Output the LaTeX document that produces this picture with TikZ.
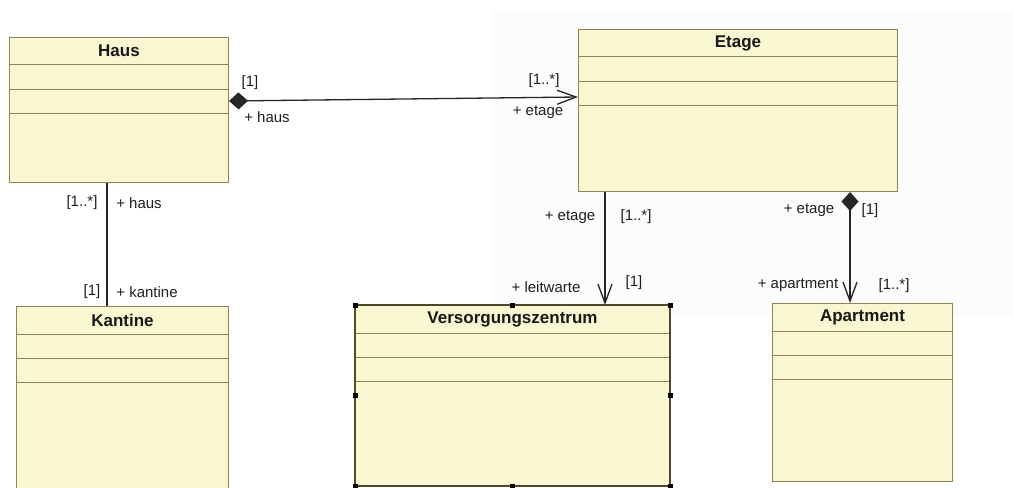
\documentclass[tikz,border=0pt]{standalone}
\usepackage{fontspec}
\setmainfont{Liberation Sans}
\usetikzlibrary{arrows.meta,calc}
\definecolor{classfill}{RGB}{249,246,210}
\definecolor{classborder}{RGB}{145,130,85}
\definecolor{selborder}{RGB}{80,70,40}
\definecolor{labelcol}{RGB}{30,30,30}
\definecolor{ghost}{RGB}{252,252,252}
\tikzset{
  classbox/.style={draw=classborder, fill=classfill, line width=1pt, anchor=north west, inner sep=0pt, rectangle},
  classtitle/.style={font=\fontsize{17}{18}\selectfont\bfseries, text=black!90, inner sep=0pt},
  compline/.style={draw=classborder, line width=1pt},
  assoc/.style={line width=1.3pt, draw=black!85},
  roletext/.style={font=\fontsize{15}{16}\selectfont, text=labelcol, inner sep=0pt},
  handle/.style={fill=black, draw=none, minimum size=5pt, inner sep=0pt, rectangle},
  comptip/.tip={Diamond[length=19pt,width=17pt]},
  navtip/.tip={Straight Barb[length=19pt,width=14pt]}
}
\newcommand{\umlclassbox}[6]{%
  \node[classbox, minimum width=#4pt, minimum height=#5pt] (#1) at (#2,#3) {};
  \node[classtitle] (#1-title) at ($(#1.north)+(0,14)$) {#6};
  \draw[compline] ($(#1.north west)+(0,28)$) -- ($(#1.north east)+(0,28)$);
  \draw[compline] ($(#1.north west)+(0,52)$) -- ($(#1.north east)+(0,52)$);
  \draw[compline] ($(#1.north west)+(0,76)$) -- ($(#1.north east)+(0,76)$);
}
\begin{document}
\begin{tikzpicture}[x=1pt,y=-1pt]
\useasboundingbox (0,0) rectangle (1014,487);
\begin{scope}
\clip (0,0) rectangle (1014,487);
\fill[ghost] (493,10) rectangle (1014,315);

\umlclassbox{haus}{9}{37}{219}{145}{Haus}
\umlclassbox{etage}{578}{29}{319}{162}{Etage}
\umlclassbox{kantine}{16}{306}{212}{190}{Kantine}
\umlclassbox{versorg}{355}{305}{314}{180}{Versorgungszentrum}
\umlclassbox{apartment}{772}{303}{180}{178}{Apartment}

% selection frame of Versorgungszentrum
\draw[selborder, line width=1.5pt] (versorg.north west) rectangle (versorg.south east);
\foreach \a in {north west,north,north east,west,east,south west,south,south east}
  \node[handle] at (versorg.\a) {};

% connectors
\coordinate (hausE) at ($(haus.north east)+(0,64)$);
\coordinate (etageW) at ($(etage.north west)+(0,68)$);
\draw[assoc, comptip-navtip] (hausE) -- (etageW);

\coordinate (hausS) at ($(haus.south west)+(98,0)$);
\coordinate (kantineN) at ($(kantine.north west)+(91,0)$);
\draw[assoc] (hausS) -- (kantineN);

\coordinate (etageS1) at ($(etage.south west)+(27,0)$);
\coordinate (versorgN) at ($(versorg.north west)+(250,0)$);
\draw[assoc, -navtip] (etageS1) -- (versorgN);

\coordinate (etageS2) at ($(etage.south west)+(272,0)$);
\coordinate (apartmentN) at ($(apartment.north west)+(78,0)$);
\draw[assoc, comptip-navtip] (etageS2) -- (apartmentN);

% role labels
\node[roletext] (l1) at (250,83) {[1]};
\node[roletext] (l2) at (267,117) {+ haus};
\node[roletext] (l3) at (544,81) {[1..*]};
\node[roletext] (l4) at (538,112) {+ etage};

\node[roletext] (l5) at (82,203) {[1..*]};
\node[roletext] (l6) at (139,203) {+ haus};
\node[roletext] (l7) at (92,292) {[1]};
\node[roletext] (l8) at (147,292) {+ kantine};

\node[roletext] (l9) at (570,217) {+ etage};
\node[roletext] (l10) at (636,217) {[1..*]};
\node[roletext] (l11) at (546,287) {+ leitwarte};
\node[roletext] (l12) at (634,283) {[1]};

\node[roletext] (l13) at (809,210) {+ etage};
\node[roletext] (l14) at (870,211) {[1]};
\node[roletext] (l15) at (798,285) {+ apartment};
\node[roletext] (l16) at (894,286) {[1..*]};
\end{scope}
\end{tikzpicture}
\end{document}
